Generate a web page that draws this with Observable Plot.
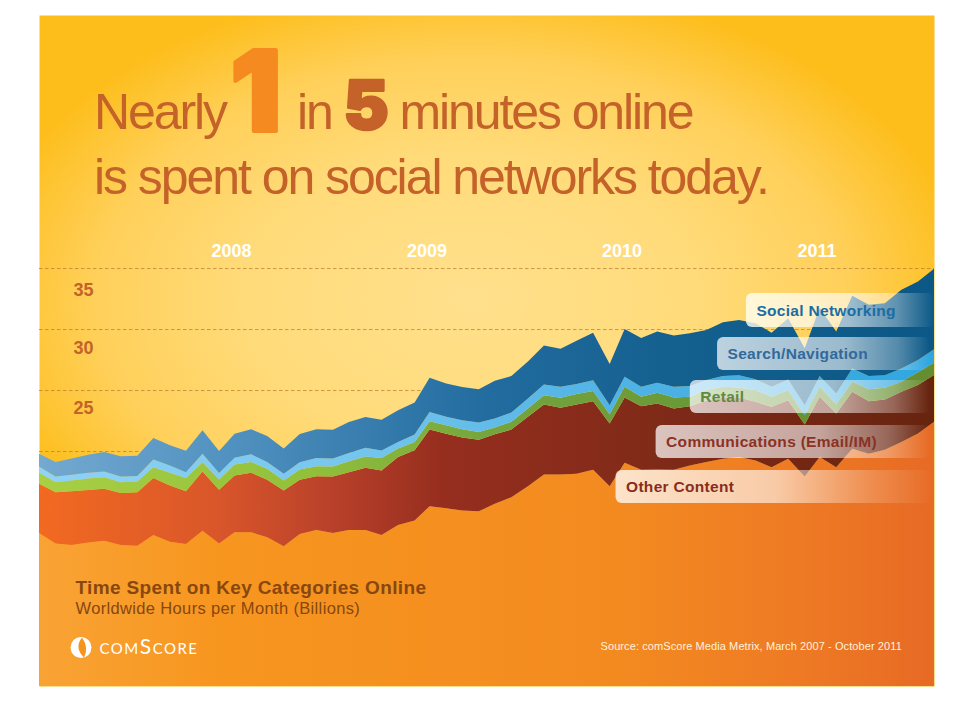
<!DOCTYPE html>
<html><head><meta charset="utf-8">
<script src="https://cdn.jsdelivr.net/npm/d3@7"></script>
<script src="https://cdn.jsdelivr.net/npm/@observablehq/plot@0.6"></script>
<style>html,body{margin:0;padding:0;background:#fff}svg{display:block}</style>
</head><body><div id="chart"></div>
<script>
const other = [13.28,12.43,12.30,12.51,12.65,12.30,12.24,13.12,12.57,12.38,13.47,12.43,13.34,13.34,12.93,12.19,13.20,13.53,13.28,13.53,13.53,13.12,13.94,14.30,15.48,15.31,15.12,15.06,15.67,16.22,17.12,18.08,18.08,18.14,18.46,17.12,19.04,18.46,18.49,18.46,18.82,19.10,19.37,19.51,19.23,18.68,19.37,17.92,19.51,18.68,20.19,19.78,20.11,20.74,21.43,22.39];
const communications = [4.03,4.20,4.41,4.30,4.25,4.25,4.39,4.66,4.61,4.33,4.85,4.39,4.66,4.88,4.72,4.58,4.44,4.41,4.63,4.74,5.10,5.29,5.57,5.76,6.28,6.11,5.98,5.87,5.70,5.54,5.68,5.73,5.46,5.68,5.62,5.13,5.35,5.21,5.40,5.02,4.85,5.02,4.99,4.88,4.80,4.94,4.80,4.25,4.94,4.39,4.66,4.30,4.11,4.11,3.98,3.84];
const retail = [.90,.82,.88,.93,.96,.90,.88,.90,1.04,1.07,.77,.85,.90,.88,.90,.82,.85,.82,.82,.90,.93,1.01,.69,.69,.69,.69,.69,.63,.55,.63,.69,.77,.82,.85,.85,.77,.88,.77,.88,.90,.77,.88,.90,.82,.96,.82,.82,.77,.82,.77,.82,.99,.96,.82,1.04,1.01];
const search = [.52,.47,.47,.47,.47,.47,.44,.63,.60,.49,.69,.52,.55,.63,.55,.55,.60,.66,.66,.66,.71,.63,.55,.60,.74,.69,.74,.77,.74,.77,.82,.88,.90,.82,.88,.74,.82,.82,.82,.88,.88,.82,.88,1.01,.90,.82,.88,.82,.88,.88,1.10,1.07,1.04,1.10,1.01,1.10];
const social = [1.04,1.18,1.32,1.48,1.59,1.65,1.67,1.75,1.65,1.75,1.92,1.81,1.97,2.06,2.14,2.06,2.30,2.36,2.36,2.55,2.52,2.52,2.60,2.63,2.82,2.74,2.71,2.74,3.10,2.99,3.02,3.18,3.13,3.54,3.89,3.37,3.92,4.00,4.20,4.20,4.33,4.11,4.41,4.52,4.58,4.44,5.02,4.66,5.57,5.07,5.95,5.84,5.90,6.44,6.44,6.61];
const seriesNames = ["Other Content","Communications (Email/IM)","Retail","Search/Navigation","Social Networking"];
const gridValues = [35,30,25,20];
const yearTicks = ["2008-02-25","2009-02-25","2010-02-25","2011-02-25"];

const months = d3.utcMonth.range(new Date(Date.UTC(2007,2,1)), new Date(Date.UTC(2011,10,1)));
const columns = [other,communications,retail,search,social];
const rows = columns.flatMap((vals,s)=>vals.map((v,i)=>({date:months[i],value:v,series:seriesNames[s]})));
const D = s=>new Date(s+"T00:00Z");

const labelRows = [
 {name:"Social Networking",x1:"2010-10-14",x2:"2011-10-01",y1:32.95,y2:30.16,color:"#1a6da3",grad:"url(#lab1)"},
 {name:"Search/Navigation",x1:"2010-08-21",x2:"2011-09-23",y1:29.34,y2:26.64,color:"#33699a",grad:"url(#lab2)"},
 {name:"Retail",x1:"2010-07-01",x2:"2011-09-23",y1:25.82,y2:23.11,color:"#5f8a3e",grad:"url(#lab2)"},
 {name:"Communications (Email/IM)",x1:"2010-04-28",x2:"2011-09-23",y1:22.13,y2:19.43,color:"#8a3226",grad:"url(#lab2)"},
 {name:"Other Content",x1:"2010-02-12",x2:"2011-10-01",y1:18.44,y2:15.74,color:"#8a2c1c",grad:"url(#lab3)"}
];
const boxes = labelRows.map(d=>Plot.rect([d],{x1:v=>D(v.x1),x2:v=>D(v.x2),y1:"y1",y2:"y2",fill:d.grad,rx:6}));

const ink = "#c4622a";
const sans = "Liberation Sans";
const heavy = "Inter";
const T = (text,dx,base,o)=>Plot.text([text],{text:d=>d,frameAnchor:"top-left",textAnchor:"start",lineAnchor:"bottom",dx:dx-39,dy:base-15,fontFamily:sans,...o});
const tickY = (t,dy)=>Plot.axisY([t],{anchor:"left",tickSize:0,tickPadding:0,textAnchor:"start",dx:34,dy,fontSize:18,fontWeight:"bold",fontFamily:sans,fill:ink,tickFormat:d=>`${d}`,label:null});
const leaf = {draw(c){c.moveTo(1,-10);c.quadraticCurveTo(-7,0,3,10);c.quadraticCurveTo(8,0,1,-10);c.closePath();}};

const chart = Plot.plot({
  width:962,height:706,
  marginLeft:39,marginRight:28,marginTop:15,marginBottom:20,
  style:{background:"#fff",overflow:"hidden"},
  x:{type:"utc",domain:[months[0],months[55]],axis:null},
  y:{domain:[0.74,55.74],axis:null},
  color:{domain:seriesNames,range:["url(#gOther)","url(#gComm)","url(#gRetail)","url(#gSearch)","url(#gSocial)"]},
  marks:[
    Plot.frame({fill:"url(#bg)",stroke:"none"}),
    Plot.ruleY(gridValues,{stroke:"#b5772a",strokeWidth:0.8,strokeOpacity:0.85,strokeDasharray:"3.5,2.5"}),
    Plot.areaY(rows,{x:"date",y:"value",fill:"series",z:"series",clip:true,order:seriesNames}),
    tickY(35,22),tickY(30,19),tickY(25,18),
    Plot.axisX(yearTicks.map(D),{anchor:"top",tickSize:0,tickPadding:0,dy:241,dx:-1,fontSize:18,fontWeight:"bold",fontFamily:sans,fill:"#fff",tickFormat:d=>`${d.getUTCFullYear()}`,label:null}),
    ...boxes,
    ...labelRows.map(d=>Plot.text([d],{x:v=>D(v.x1),y:v=>(v.y1+v.y2)/2,text:"name",dx:10,textAnchor:"start",fontFamily:sans,fontWeight:"bold",fontSize:15.5,fill:d.color})),
    T("Nearly",93.5,128,{fontSize:50,fill:ink}),
    T("1",230,130,{fontSize:112,fontWeight:900,fontFamily:heavy,fill:"#f48a20",stroke:"#f48a20",strokeWidth:4}),
    T("in",296.5,128,{fontSize:50,fill:ink}),
    T("5",343,128.5,{fontSize:68,fontWeight:900,fontFamily:heavy,fill:ink,stroke:ink,strokeWidth:2.5}),
    T("minutes online",399,128,{fontSize:50,fill:ink}),
    T("is spent on social networks today.",93.5,193,{fontSize:50,fill:ink}),
    T("Time Spent on Key Categories Online",75,593,{fontSize:19,fontWeight:"bold",fill:"#87470f"}),
    T("Worldwide Hours per Month (Billions)",75,613,{fontSize:16.5,fill:"#87470f"}),
    T("Source: comScore Media Metrix, March 2007 - October 2011",600,649,{fontSize:11,fill:"#fff2dc"}),
    T("comScore",99,653,{fontSize:21,fontFamily:"Lato",fontVariant:"small-caps",fill:"#fff"}),
    Plot.dot([0],{frameAnchor:"top-left",dx:41.5,dy:632,r:10.5,fill:"#fff"}),
    Plot.dot([0],{frameAnchor:"top-left",dx:41.5,dy:632,r:10,symbol:leaf,fill:"#f7941e"})
  ]
});

const stops=(g,list)=>list.forEach(([o,c,a])=>g.append("stop").attr("offset",o).attr("stop-color",c).attr("stop-opacity",a===undefined?1:a));
const defs=d3.select(chart).insert("defs",":first-child");
const hGrad=(id,list)=>{const g=defs.append("linearGradient").attr("id",id).attr("gradientUnits","userSpaceOnUse").attr("x1",39).attr("x2",934).attr("y1",0).attr("y2",0);stops(g,list);};
const r=defs.append("radialGradient").attr("id","bg").attr("gradientUnits","userSpaceOnUse").attr("cx",0).attr("cy",0).attr("r",1).attr("gradientTransform","translate(470,300) scale(500,320)");
stops(r,[[0,"#ffe08c"],[0.45,"#ffdb7a"],[0.75,"#ffd05a"],[1,"#fdbe1c"]]);
hGrad("gOther",[[0,"#f9a335"],[0.2,"#f7961f"],[0.65,"#f38a20"],[0.85,"#ee7a24"],[1,"#e76a25"]]);
hGrad("gComm",[[0,"#f26a21"],[0.2,"#d9562a"],[0.33,"#b8402a"],[0.45,"#962e1e"],[0.7,"#7f2a18"],[1,"#67240f"]]);
hGrad("gRetail",[[0,"#a8cf45"],[0.3,"#92c03b"],[0.5,"#75a53e"],[0.7,"#6b9a38"],[1,"#648d30"]]);
hGrad("gSearch",[[0,"#8fd3f6"],[0.35,"#75c6ee"],[0.6,"#55b5e6"],[1,"#2fa6e0"]]);
hGrad("gSocial",[[0,"#74a9d0"],[0.2,"#5393c1"],[0.35,"#3a7fb0"],[0.5,"#226c9f"],[0.7,"#14608f"],[1,"#0b5886"]]);
const bb=(id,list)=>{const g=defs.append("linearGradient").attr("id",id).attr("x1",0).attr("x2",1).attr("y1",0).attr("y2",0);stops(g,list);};
bb("lab1",[[0,"#fffff0",0.82],[0.55,"#fff",0.6],[0.8,"#fff",0.35],[1,"#fff",0]]);
bb("lab2",[[0,"#fff",0.72],[0.6,"#fff",0.58],[0.85,"#fff",0.3],[1,"#fff",0]]);
bb("lab3",[[0,"#fff",0.76],[0.5,"#fff",0.6],[0.8,"#fff",0.2],[1,"#fff",0]]);

const tracking = new Map([
  ["Nearly",-2.1],["in",-2.1],["minutes online",-2.1],["is spent on social networks today.",-2.06],
  ["Time Spent on Key Categories Online",0.35],["Worldwide Hours per Month (Billions)",0.35],
  ["Source: comScore Media Metrix, March 2007 - October 2011",0.09],["comScore",1.5],
  ...seriesNames.map(n=>[n,0.3])
]);
d3.select(chart).selectAll("text").each(function(){const s=tracking.get(this.textContent);if(s!==undefined)this.style.letterSpacing=s+"px";});
document.getElementById("chart").append(chart);
</script></body></html>
